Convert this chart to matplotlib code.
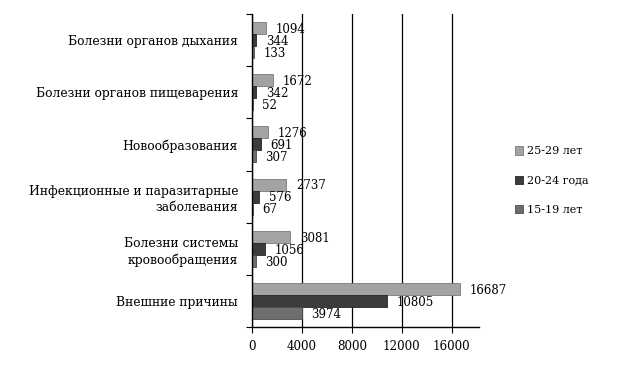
import matplotlib
matplotlib.use("Agg")
import matplotlib.pyplot as plt
import numpy as np
from matplotlib.ticker import FixedLocator

plt.rcParams['font.family'] = ['DejaVu Serif']

categories = ["Болезни органов дыхания", "Болезни органов пищеварения", "Новообразования",
              "Инфекционные и паразитарные\nзаболевания", "Болезни системы\nкровообращения",
              "Внешние причины"]
series_names = ["25-29 лет", "20-24 года", "15-19 лет"]
v_25_29 = [1094, 1672, 1276, 2737, 3081, 16687]
v_20_24 = [344, 342, 691, 576, 1056, 10805]
v_15_19 = [133, 52, 307, 67, 300, 3974]
xticks = [0, 4000, 8000, 12000, 16000]

colors = ["#a3a3a3", "#3c3c3c", "#6e6e6e"]
edges = ["#7a7a7a", "#262626", "#4c4c4c"]

fig = plt.figure(figsize=(6.37, 3.84), dpi=100)
ax = fig.add_axes([0.3956, 0.1484, 0.752 - 0.3956, 0.9635 - 0.1484])

n = len(categories)
centers = np.arange(n)[::-1].astype(float)
h = 0.23
series = [v_25_29, v_20_24, v_15_19]
offsets = [-h, 0, h]
for vals, off, c, ec, name in zip(series, offsets, colors, edges, series_names):
    ys = centers - off
    ax.barh(ys, vals, height=h, color=c, edgecolor=ec, linewidth=0.6, label=name, zorder=3)
    for y, v in zip(ys, vals):
        ax.annotate(str(v), (v, y), xytext=(7, -1), textcoords="offset points",
                    ha="left", va="center", fontsize=8.5, zorder=4)

ax.set_xlim(0, 18200)
ax.set_ylim(-0.5, n - 0.5)
ax.set_xticks(xticks)
ax.set_xticklabels([str(t) for t in xticks], fontsize=8.6)
ax.set_yticks(centers)
ax.set_yticklabels(categories, fontsize=8.9, linespacing=1.3)
ax.yaxis.set_minor_locator(FixedLocator(np.arange(n + 1) - 0.5))
ax.tick_params(axis='y', which='major', length=0, pad=10)
ax.tick_params(axis='y', which='minor', length=4, width=0.8, color='black')
ax.tick_params(axis='x', length=4, width=0.8, color='black', pad=5)
ax.grid(axis='x', color='black', linewidth=0.9, zorder=0)
for s in ['top', 'right']:
    ax.spines[s].set_visible(False)
for s in ['left', 'bottom']:
    ax.spines[s].set_color('black')
    ax.spines[s].set_linewidth(1.0)
    ax.spines[s].set_zorder(5)

leg = fig.legend(loc='upper left', bbox_to_anchor=(0.792, 0.645), frameon=False,
                 fontsize=8.0, handlelength=0.8, handleheight=0.8, labelspacing=1.72,
                 handletextpad=0.35)

fig.savefig("out.png", dpi=100, facecolor='white')
